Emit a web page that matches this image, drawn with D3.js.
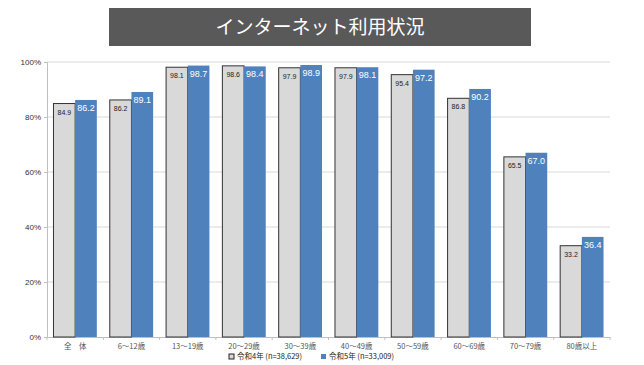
<!DOCTYPE html>
<html>
<head>
<meta charset="utf-8">
<script src="https://cdn.jsdelivr.net/npm/d3@7"></script>
<style>
  body { margin: 0; background: #fff; }
  text { font-family: "Noto Sans CJK JP", "DejaVu Sans", sans-serif; }
  text.num { font-family: "Liberation Sans", Arial, sans-serif; }
</style>
</head>
<body>
<svg id="chart" width="644" height="365"></svg>
<script>
// chart data
var categories = ["全　体", "6～12歳", "13～19歳", "20～29歳", "30～39歳",
  "40～49歳", "50～59歳", "60～69歳", "70～79歳", "80歳以上"];
var r4Values = [84.9, 86.2, 98.1, 98.6, 97.9, 97.9, 95.4, 86.8, 65.5, 33.2];
var r5Values = [86.2, 89.1, 98.7, 98.4, 98.9, 98.1, 97.2, 90.2, 67.0, 36.4];
var seriesNames = ["令和4年 (n=38,629)", "令和5年 (n=33,009)"];
var yTicks = [0, 20, 40, 60, 80, 100];

function renderChart() {
  var svg = d3.select("#chart");
  var plot = {left: 47, right: 610, top: 62, bottom: 337};

  // title bar
  svg.append("rect")
    .attr("x", 109).attr("y", 8)
    .attr("width", 422).attr("height", 38)
    .attr("fill", "#595959");
  svg.append("text")
    .attr("x", 320).attr("y", 34)
    .attr("text-anchor", "middle")
    .attr("font-size", 19)
    .attr("fill", "#fff")
    .text("インターネット利用状況");

  var x = d3.scaleBand().domain(categories)
    .range([plot.left, plot.right]).paddingInner(0.23).paddingOuter(0.115);
  var y = d3.scaleLinear().domain([0, 100]).range([plot.bottom, plot.top]);

  // gridlines
  svg.append("g").selectAll("line")
    .data(yTicks.filter(function(d) { return d > 0; }))
    .enter().append("line")
    .attr("x1", plot.left).attr("x2", plot.right)
    .attr("y1", function(d) { return y(d); })
    .attr("y2", function(d) { return y(d); })
    .attr("stroke", "#d9d9d9").attr("stroke-width", 1);

  // y axis
  var yAxis = svg.append("g")
    .attr("transform", "translate(" + plot.left + ",0)")
    .call(d3.axisLeft(y).tickValues(yTicks).tickSize(3)
      .tickFormat(function(d) { return d + "%"; }));
  yAxis.select(".domain").attr("stroke", "#bfbfbf");
  yAxis.selectAll(".tick line").attr("stroke", "#bfbfbf");
  yAxis.selectAll("text").attr("class", "num").attr("font-size", 8).attr("fill", "#333");

  // x axis
  var step = x.step();
  var xAxis = svg.append("g")
    .attr("transform", "translate(0," + plot.bottom + ")")
    .call(d3.axisBottom(x).tickSize(0).tickPadding(7));
  xAxis.select(".domain").attr("stroke", "#bfbfbf");
  xAxis.selectAll("text").attr("font-size", 7.5).attr("fill", "#555");
  // boundary ticks between categories
  xAxis.selectAll(".sep")
    .data(d3.range(categories.length + 1))
    .enter().append("line")
    .attr("x1", function(i) { return plot.left + i * step; })
    .attr("x2", function(i) { return plot.left + i * step; })
    .attr("y1", 0).attr("y2", 3)
    .attr("stroke", "#bfbfbf");

  var bw = x.bandwidth() / 2;
  var g = svg.append("g");

  // 令和4年 bars
  g.selectAll(".r4").data(r4Values).enter().append("rect")
    .attr("x", function(d, i) { return x(categories[i]); })
    .attr("y", function(d) { return y(d); })
    .attr("width", bw)
    .attr("height", function(d) { return plot.bottom - y(d); })
    .attr("fill", "#d9d9d9").attr("stroke", "#333").attr("stroke-width", 1);

  // 令和5年 bars
  g.selectAll(".r5").data(r5Values).enter().append("rect")
    .attr("x", function(d, i) { return x(categories[i]) + bw; })
    .attr("y", function(d) { return y(d); })
    .attr("width", bw)
    .attr("height", function(d) { return plot.bottom - y(d); })
    .attr("fill", "#4f81bd");

  // value labels
  g.selectAll(".l4").data(r4Values).enter().append("text")
    .attr("class", "num")
    .attr("x", function(d, i) { return x(categories[i]) + bw / 2; })
    .attr("y", function(d) { return y(d) + 11; })
    .attr("text-anchor", "middle")
    .attr("font-size", 7)
    .attr("fill", "#222")
    .text(function(d) { return d.toFixed(1); });
  g.selectAll(".l5").data(r5Values).enter().append("text")
    .attr("class", "num")
    .attr("x", function(d, i) { return x(categories[i]) + bw * 1.5; })
    .attr("y", function(d) { return y(d) + 11; })
    .attr("text-anchor", "middle")
    .attr("font-size", 9)
    .attr("fill", "#fff")
    .text(function(d) { return d.toFixed(1); });

  // legend
  var legend = svg.append("g").attr("transform", "translate(229,359)");
  legend.append("rect").attr("x", 0).attr("y", -5).attr("width", 5).attr("height", 5)
    .attr("fill", "#d9d9d9").attr("stroke", "#222");
  legend.append("text").attr("x", 8).attr("y", 0).attr("font-size", 7.5).attr("fill", "#222")
    .text(seriesNames[0]);
  legend.append("rect").attr("x", 92).attr("y", -5).attr("width", 5).attr("height", 5)
    .attr("fill", "#4f81bd");
  legend.append("text").attr("x", 100).attr("y", 0).attr("font-size", 7.5).attr("fill", "#222")
    .text(seriesNames[1]);
}

renderChart();
</script>
</body>
</html>
